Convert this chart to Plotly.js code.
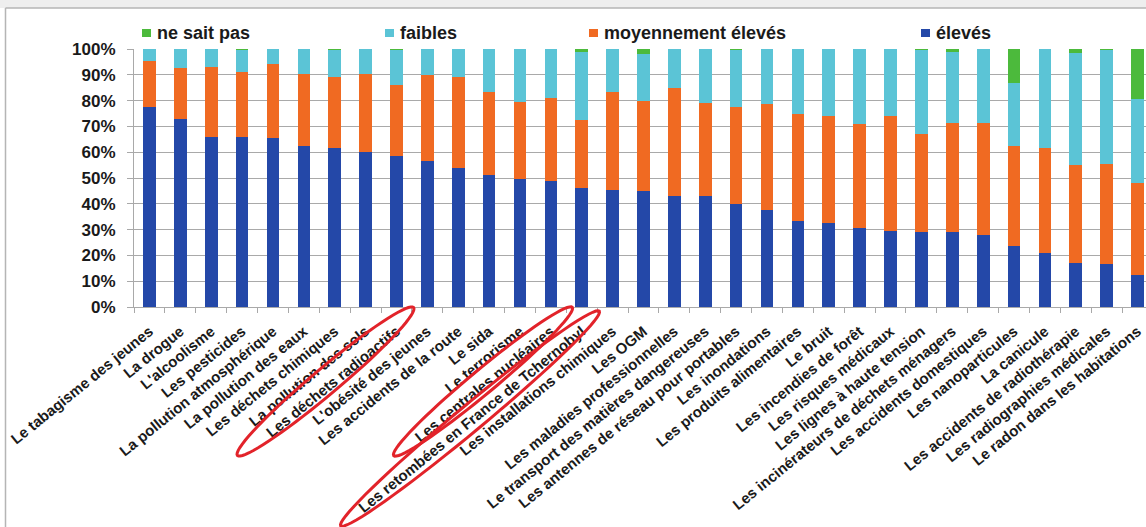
<!DOCTYPE html>
<html>
<head>
<meta charset="utf-8">
<script src="https://cdn.plot.ly/plotly-3.0.1.min.js"></script>
<style>
  html, body { margin: 0; padding: 0; overflow: hidden; background: #ffffff; }
  #chart { width: 1170px; height: 527px; }
</style>
</head>
<body>
<div id="chart"></div>
<script>
// Perception des risques : part des réponses par niveau (en %)
const categories = [
  "Le tabagisme des jeunes",
  "La drogue",
  "L'alcoolisme",
  "Les pesticides",
  "La pollution atmosphérique",
  "La pollution des eaux",
  "Les déchets chimiques",
  "La pollution des sols",
  "Les déchets radioactifs",
  "L'obésité des jeunes",
  "Les accidents de la route",
  "Le sida",
  "Le terrorisme",
  "Les centrales nucléaires",
  "Les retombées en France de Tchernobyl",
  "Les installations chimiques",
  "Les OGM",
  "Les maladies professionnelles",
  "Le transport des matières dangereuses",
  "Les antennes de réseau pour portables",
  "Les inondations",
  "Les produits alimentaires",
  "Le bruit",
  "Les incendies de forêt",
  "Les risques médicaux",
  "Les lignes à haute tension",
  "Les incinérateurs de déchets ménagers",
  "Les accidents domestiques",
  "Les nanoparticules",
  "La canicule",
  "Les accidents de radiothérapie",
  "Les radiographies médicales",
  "Le radon dans les habitations"
];

const eleves = [77.5, 73, 66, 66, 65.5, 62.5, 61.5, 60, 58.5, 56.5, 54, 51, 49.5, 49, 46, 45.5, 45,
  43, 43, 40, 37.5, 33.5, 32.5, 30.5, 29.5, 29, 29, 28, 23.5, 21, 17, 16.5, 12.5];
const moyennementEleves = [18, 19.5, 27, 25, 28.5, 28, 27.5, 30.5, 27.5, 33.5, 35, 32.5, 30, 32, 26.5, 38, 35,
  42, 36, 37.5, 41, 41.5, 41.5, 40.5, 44.5, 38, 42.5, 43.5, 39, 40.5, 38, 39, 35.5];
const faibles = [4.5, 7.5, 7, 8.5, 6, 9.5, 10.5, 9.5, 13.5, 10, 11, 16.5, 20.5, 19, 26.5, 16.5, 18,
  15, 21, 22, 21.5, 25, 26, 29, 26, 32.5, 27.5, 28.5, 24.5, 38.5, 43.5, 44, 32.5];
const neSaitPas = [0, 0, 0, 0.5, 0, 0, 0.5, 0, 0.5, 0, 0, 0, 0, 0, 1, 0, 2,
  0, 0, 0.5, 0, 0, 0, 0, 0, 0.5, 1, 0, 13, 0, 1.5, 0.5, 19.5];

// stacking order, bottom to top
const seriesNames = ["élevés", "moyennement élevés", "faibles", "ne sait pas"];
const seriesValues = [eleves, moyennementEleves, faibles, neSaitPas];
const seriesColors = ["#2448a8", "#f06a22", "#5bc4d6", "#4cba3c"];

const yTickValues = [0, 10, 20, 30, 40, 50, 60, 70, 80, 90, 100];
const yTickLabels = yTickValues.map(v => v + "%");

// ---- geometry of the figure (pixels) ----
const W = 1170, H = 527;
const M = { l: 134, r: 17, t: 49, b: 220 };
const plotW = W - M.l - M.r;
const plotH = H - M.t - M.b;
const toPaperX = x => (x - M.l) / plotW;
const toPaperY = y => (H - M.b - y) / plotH;
const FONT = "Liberation Sans, Arial, Helvetica, sans-serif";

const traces = seriesNames.map((name, i) => ({
  type: "bar",
  name: name,
  x: categories,
  y: seriesValues[i],
  marker: { color: seriesColors[i], line: { width: 0 } },
  showlegend: false,
  hoverinfo: "x+y+name"
}));

// legend row above the plot, left to right: top of the stack first
const legendOrder = [3, 2, 1, 0];
const legendMarkerX = [142, 385, 589, 921];
const legendY = 33;
const shapes = [];
const annotations = [];
legendOrder.forEach((s, k) => {
  const x0 = legendMarkerX[k];
  shapes.push({
    type: "rect", xref: "paper", yref: "paper", layer: "above",
    x0: toPaperX(x0), x1: toPaperX(x0 + 9),
    y0: toPaperY(legendY + 4), y1: toPaperY(legendY - 4),
    fillcolor: seriesColors[s], line: { width: 0 }
  });
  annotations.push({
    xref: "paper", yref: "paper", showarrow: false,
    x: toPaperX(x0 + 13), y: toPaperY(legendY),
    xanchor: "left", yanchor: "middle",
    text: seriesNames[s],
    font: { family: FONT, size: 18, color: "#1a1a1a", weight: "bold" }
  });
});

// outer frame of the chart
shapes.push({
  type: "rect", xref: "paper", yref: "paper", layer: "below",
  x0: toPaperX(-10), x1: toPaperX(W + 10), y0: toPaperY(8), y1: toPaperY(-10),
  fillcolor: "#eeeeee", line: { width: 0 }
});
shapes.push({
  type: "line", xref: "paper", yref: "paper",
  x0: toPaperX(5.5), x1: toPaperX(W + 10), y0: toPaperY(8), y1: toPaperY(8),
  line: { color: "#b5b5b5", width: 1.5 }
});
shapes.push({
  type: "line", xref: "paper", yref: "paper",
  x0: toPaperX(5.5), x1: toPaperX(5.5), y0: toPaperY(8), y1: toPaperY(H + 10),
  line: { color: "#b5b5b5", width: 1.5 }
});

// red rings drawn around three of the category labels
function ringPath(cx, cy, a, b, angleDeg) {
  const t = angleDeg * Math.PI / 180;
  const pts = [];
  for (let i = 0; i <= 72; i++) {
    const u = i / 72 * 2 * Math.PI;
    const ex = a * Math.cos(u), ey = b * Math.sin(u);
    const x = cx + ex * Math.cos(t) - ey * Math.sin(t);
    const y = cy + ex * Math.sin(t) + ey * Math.cos(t);
    pts.push(toPaperX(x).toFixed(5) + "," + toPaperY(y).toFixed(5));
  }
  return "M" + pts.join("L") + "Z";
}
const rings = [
  { cx: 325.5, cy: 381.5, a: 115, b: 13, ang: -40 },
  { cx: 483, cy: 381.5, a: 116, b: 12, ang: -39.7 },
  { cx: 470, cy: 418.5, a: 168, b: 13, ang: -39.7 }
];
rings.forEach(r => shapes.push({
  type: "path", xref: "paper", yref: "paper", layer: "above",
  path: ringPath(r.cx, r.cy, r.a, r.b, r.ang),
  line: { color: "#e2232a", width: 3 }, fillcolor: "rgba(0,0,0,0)"
}));

const layout = {
  width: W, height: H,
  margin: M,
  paper_bgcolor: "#ffffff",
  plot_bgcolor: "#ffffff",
  barmode: "stack",
  bargap: 0.59,
  showlegend: false,
  font: { family: FONT, color: "#1a1a1a" },
  xaxis: {
    type: "category",
    tickangle: -39,
    tickfont: { family: FONT, size: 15, color: "#1a1a1a", weight: "bold" },
    ticks: "outside", tickson: "boundaries", ticklen: 5, tickcolor: "#a9a9a9", tickwidth: 1,
    ticklabelstandoff: 9,
    showline: true, linecolor: "#a9a9a9", linewidth: 1,
    showgrid: false, zeroline: false, automargin: false, fixedrange: true
  },
  yaxis: {
    range: [0, 100],
    tickmode: "array",
    tickvals: yTickValues,
    ticktext: yTickLabels,
    tickfont: { family: FONT, size: 17, color: "#1a1a1a", weight: "bold" },
    ticks: "outside", ticklen: 6, tickcolor: "#a9a9a9", tickwidth: 1,
    ticklabelstandoff: 8,
    showline: true, linecolor: "#a9a9a9", linewidth: 1,
    showgrid: true, gridcolor: "#a9a9a9", gridwidth: 1,
    zeroline: false, automargin: false, fixedrange: true
  },
  shapes: shapes,
  annotations: annotations
};

Plotly.newPlot("chart", traces, layout, { displayModeBar: false, staticPlot: true });
</script>
</body>
</html>
